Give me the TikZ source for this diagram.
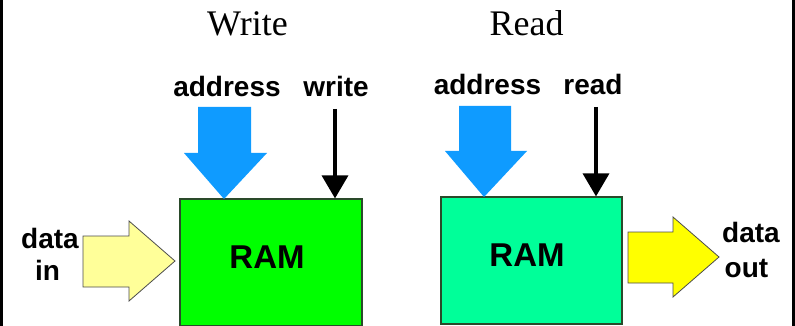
\documentclass[tikz,border=0pt]{standalone}
\usepackage{fontspec}
\setmainfont{Liberation Serif}
\setsansfont{Liberation Sans}
\usetikzlibrary{arrows.meta}

\definecolor{ramgreen}{HTML}{00FF00}
\definecolor{ramteal}{HTML}{00FF99}
\definecolor{addrblue}{HTML}{0F9BFF}
\definecolor{paleyellow}{HTML}{FFFF99}
\definecolor{brightyellow}{HTML}{FFFF00}
\definecolor{boxedge}{HTML}{2A4A2A}

\tikzset{
  title/.style={inner sep=0pt, anchor=base, font=\fontsize{36}{40}\selectfont},
  lbl/.style={inner sep=0pt, anchor=base, font=\sffamily\bfseries\fontsize{28}{32}\selectfont},
  ramlbl/.style={inner sep=0pt, anchor=base, font=\sffamily\bfseries\fontsize{33}{36}\selectfont},
  rambox/.style={draw=boxedge, line width=1.2pt, minimum width=182pt, minimum height=127pt, inner sep=0pt},
  ctrl/.style={line width=3.5pt, -{Triangle[width=26pt,length=23pt]}},
  addrarrow/.style={fill=addrblue},
  dataarrow/.style={draw=black!70, line width=0.8pt},
}

\begin{document}
\begin{tikzpicture}[x=1pt, y=-1pt]
  \useasboundingbox (0,0) rectangle (795,326);
  % side rules of the frame
  \draw[line width=3pt] (1.5,0) -- (1.5,326);
  \draw[line width=3pt] (793.5,0) -- (793.5,326);

  % headings
  \node[title] (twrite) at (247.5,36) {Write};
  \node[title] (tread) at (526.5,36) {Read};

  % memory blocks
  \node[rambox, fill=ramgreen] (ramw) at (271,262.5) {};
  \node[rambox, fill=ramteal, minimum width=181pt] (ramr) at (531.5,260.5) {};
  \node[ramlbl] (ramwt) at (267,268) {RAM};
  \node[ramlbl] (ramrt) at (527,266) {RAM};

  % signal labels
  \node[lbl] (addrw) at (227,97) {address};
  \node[lbl] (wr) at (336,97) {write};
  \node[lbl] (addrr) at (487.5,95) {address};
  \node[lbl] (rd) at (593,95) {read};
  \node[lbl] (din1) at (50,248) {data};
  \node[lbl] (din2) at (47.5,280) {in};
  \node[lbl] (dout1) at (751,242) {data};
  \node[lbl] (dout2) at (746.5,277) {out};

  % control lines
  \coordinate (wrtop) at (335,109);
  \coordinate (rdtop) at (596,107);
  \draw[ctrl] (wrtop) -- (wrtop |- ramw.north);
  \draw[ctrl] (rdtop) -- (rdtop |- ramr.north);

  % address block arrows
  \fill[addrarrow] (224,199) -- (267,153) -- (251,153) -- (251,107)
    -- (198,107) -- (198,153) -- (184,153) -- cycle;
  \fill[addrarrow] (484,197) -- (527,151) -- (511,151) -- (511,106)
    -- (459,106) -- (459,151) -- (445,151) -- cycle;

  % data block arrows
  \filldraw[dataarrow, fill=paleyellow] (175,261) -- (129,221) -- (129,236)
    -- (83,236) -- (83,287) -- (129,287) -- (129,301) -- cycle;
  \filldraw[dataarrow, fill=brightyellow] (719,257) -- (673,217) -- (673,232)
    -- (628,232) -- (628,283) -- (673,283) -- (673,297) -- cycle;
\end{tikzpicture}
\end{document}
